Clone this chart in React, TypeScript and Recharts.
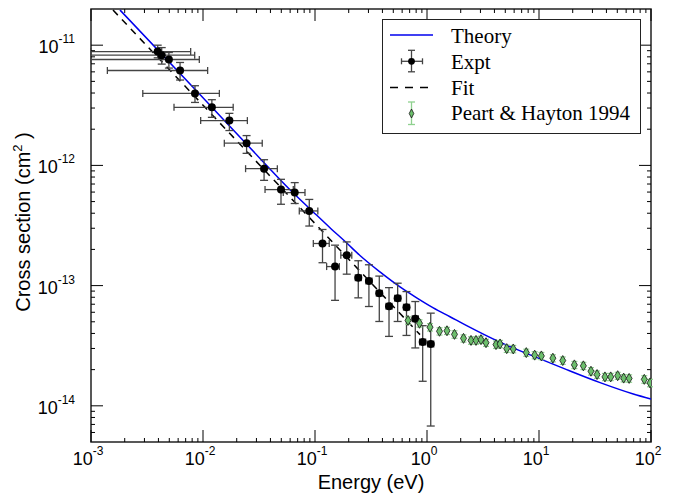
import React from 'react';
import {
  ComposedChart,
  Line,
  Scatter,
  XAxis,
  YAxis,
  ErrorBar,
  ReferenceArea,
  Legend
} from 'recharts';

// Theory curve (energy in eV, cross section in cm^2)
const theoryEnergy = [1.815e-3, 1.0e-2, 3.23e-2, 5.98e-2, 9.59e-2, 0.136, 0.192, 0.252, 0.38, 0.574, 0.809, 1.138, 1.604, 2.262, 4.487, 8.89, 17.66, 35.1, 69.5, 100];
const theorySigma = [1.96e-11, 3.66e-12, 1.143e-12, 6.27e-13, 4.12e-13, 3.03e-13, 2.26e-13, 1.78e-13, 1.3e-13, 9.75e-14, 7.91e-14, 6.53e-14, 5.51e-14, 4.64e-14, 3.38e-14, 2.59e-14, 2.0e-14, 1.56e-14, 1.255e-14, 1.14e-14];

// Power-law fit
const fitEnergy = [1.572e-3, 0.05, 0.866];
const fitSigma = [1.96e-11, 6.5e-13, 3.91e-14];

// Experiment
const exptEnergy = [3.94e-3, 4.28e-3, 4.96e-3, 6.24e-3, 8.48e-3, 1.2e-2, 1.72e-2, 2.45e-2, 3.51e-2, 4.97e-2, 6.59e-2, 8.89e-2, 0.1167, 0.151, 0.192, 0.2435, 0.303, 0.375, 0.458, 0.547, 0.656, 0.786, 0.915, 1.08];
const exptSigma = [8.85e-12, 8.26e-12, 7.6e-12, 6.16e-12, 3.97e-12, 3.04e-12, 2.36e-12, 1.53e-12, 9.39e-13, 6.29e-13, 5.94e-13, 4.18e-13, 2.24e-13, 1.44e-13, 1.79e-13, 1.165e-13, 1.094e-13, 8.65e-14, 6.72e-14, 7.86e-14, 6.62e-14, 5.3e-14, 3.4e-14, 3.27e-14];
const exptEnergyLow = [1.0e-3, 1.0e-3, 1.0e-3, 1.4e-3, 2.9e-3, 5.51e-3, 9.53e-3, 1.55e-2, 2.4e-2, 3.58e-2, 5.21e-2, 7.24e-2, 9.66e-2, 0.127, 0.17, 0.229, 0.285, 0.353, 0.431, 0.514, 0.617, 0.739, 0.86, 1.015];
const exptEnergyHigh = [7.76e-3, 8.43e-3, 9.27e-3, 1.1e-2, 1.4e-2, 1.86e-2, 2.49e-2, 3.38e-2, 4.61e-2, 6.4e-2, 8.14e-2, 0.106, 0.134, 0.165, 0.213, 0.259, 0.323, 0.399, 0.487, 0.582, 0.698, 0.836, 0.973, 1.149];
const exptSigmaLow = [7.85e-12, 6.96e-12, 6.45e-12, 5.13e-12, 3.34e-12, 2.51e-12, 1.95e-12, 1.26e-12, 7.51e-13, 4.75e-13, 4.82e-13, 3.13e-13, 1.55e-13, 7.54e-14, 1.245e-13, 7.91e-14, 6.7e-14, 5.03e-14, 3.78e-14, 5.03e-14, 3.85e-14, 3.03e-14, 1.6e-14, 6.79e-15];
const exptSigmaHigh = [1.0e-11, 9.55e-12, 8.69e-12, 7.18e-12, 4.6e-12, 3.52e-12, 2.71e-12, 1.77e-12, 1.115e-12, 7.66e-13, 7.19e-13, 5.21e-13, 2.93e-13, 2.17e-13, 2.31e-13, 1.61e-13, 1.49e-13, 1.2e-13, 9.62e-14, 1.047e-13, 8.92e-14, 7.37e-14, 4.64e-14, 5.9e-14];

// Peart & Hayton 1994
const peartEnergy = [0.677, 0.857, 1.064, 1.293, 1.508, 1.76, 2.118, 2.471, 2.738, 3.034, 3.364, 4.13, 4.49, 5.15, 5.89, 7.7, 9.15, 10.5, 13.3, 16.3, 20.7, 24.9, 29.1, 33.0, 38.8, 43.7, 50.4, 57.0, 63.8, 87.1, 98.0];
const peartSigma = [5.13e-14, 4.86e-14, 4.51e-14, 4.17e-14, 4.21e-14, 3.93e-14, 3.64e-14, 3.5e-14, 3.5e-14, 3.55e-14, 3.35e-14, 3.23e-14, 3.27e-14, 2.99e-14, 2.97e-14, 2.77e-14, 2.64e-14, 2.6e-14, 2.49e-14, 2.38e-14, 2.19e-14, 2.15e-14, 1.94e-14, 1.82e-14, 1.74e-14, 1.74e-14, 1.78e-14, 1.7e-14, 1.69e-14, 1.66e-14, 1.55e-14];
const peartSigmaErr = [0.36e-14, 0.34e-14, 0.32e-14, 0.29e-14, 0.29e-14, 0.28e-14, 0.25e-14, 0.25e-14, 0.25e-14, 0.25e-14, 0.23e-14, 0.23e-14, 0.23e-14, 0.21e-14, 0.21e-14, 0.19e-14, 0.18e-14, 0.18e-14, 0.17e-14, 0.17e-14, 0.15e-14, 0.15e-14, 0.14e-14, 0.13e-14, 0.12e-14, 0.12e-14, 0.12e-14, 0.12e-14, 0.12e-14, 0.12e-14, 0.11e-14];

// Axes
const xDomain = [1e-3, 1e2];
const yDomain = [5e-15, 2e-11];
const xMajorTicks = [1e-3, 1e-2, 1e-1, 1, 10, 100];
const yMajorTicks = [1e-14, 1e-13, 1e-12, 1e-11];
const minorMantissas = [2, 3, 4, 5, 6, 7, 8, 9];

const xMinorTicks = xMajorTicks.slice(0, -1).flatMap(d => minorMantissas.map(m => m * d));
const yMinorTicks = [1e-15, ...yMajorTicks]
  .flatMap(d => minorMantissas.map(m => m * d))
  .filter(v => v > yDomain[0] * 1.001 && v < yDomain[1] * 0.999);

const theoryData = theoryEnergy.map((x, i) => ({ x, y: theorySigma[i] }));
const fitData = fitEnergy.map((x, i) => ({ x, y: fitSigma[i] }));
const exptData = exptEnergy.map((x, i) => ({
  x,
  y: exptSigma[i],
  xErr: [x - exptEnergyLow[i], exptEnergyHigh[i] - x],
  yErr: [exptSigma[i] - exptSigmaLow[i], exptSigmaHigh[i] - exptSigma[i]]
}));
const peartData = peartEnergy.map((x, i) => ({ x, y: peartSigma[i], yErr: peartSigmaErr[i] }));

const PLOT = { left: 91, right: 651, top: 9, bottom: 442 };
const SANS = '"Liberation Sans", Arial, sans-serif';
const SERIF = '"Liberation Serif", "Times New Roman", serif';
const GREEN = '#6cbf6c';
const GREEN_BAR = '#8fd18f';
const BAR = '#444';

const exponentOf = (v: number) => String(Math.round(Math.log10(v)));

const XTick = (props: any) => {
  const { x, payload } = props;
  const v = payload.value;
  const major = xMajorTicks.includes(v);
  const len = major ? 12 : 4;
  return (
    <g>
      <line x1={x} x2={x} y1={PLOT.bottom} y2={PLOT.bottom - len} stroke="#000" />
      <line x1={x} x2={x} y1={PLOT.top} y2={PLOT.top + len} stroke="#000" />
      {major && (
        <text x={x - 3} y={465} textAnchor="middle" fontFamily={SANS} fontSize={18} fill="#000">
          10<tspan dy={-10} fontSize={12}>{exponentOf(v)}</tspan>
        </text>
      )}
    </g>
  );
};

const YTick = (props: any) => {
  const { y, payload } = props;
  const v = payload.value;
  const major = yMajorTicks.includes(v);
  const len = major ? 12 : 4;
  return (
    <g>
      <line x1={PLOT.left} x2={PLOT.left + len} y1={y} y2={y} stroke="#000" />
      <line x1={PLOT.right} x2={PLOT.right - len} y1={y} y2={y} stroke="#000" />
      {major && (
        <text x={75} y={y + 8} textAnchor="end" fontFamily={SANS} fontSize={18} fill="#000">
          10<tspan dy={-10} fontSize={12}>{exponentOf(v)}</tspan>
        </text>
      )}
    </g>
  );
};

const YTitle = () => (
  <text
    x={30}
    y={222}
    transform="rotate(-90, 30, 222)"
    textAnchor="middle"
    fontFamily={SANS}
    fontSize={20}
    fill="#000"
  >
    Cross section (cm<tspan dy={-8} fontSize={13}>2</tspan>
    <tspan dy={8}> )</tspan>
  </text>
);

const ExptDot = (p: any) => <circle cx={p.cx} cy={p.cy} r={4} fill="#000" />;

const PeartDiamond = (p: any) => (
  <path
    d={`M${p.cx},${p.cy - 5}L${p.cx + 3},${p.cy}L${p.cx},${p.cy + 5}L${p.cx - 3},${p.cy}Z`}
    fill={GREEN}
    stroke="#111"
    strokeWidth={0.8}
  />
);

const LegendBox = () => {
  const rows = [16, 42.3, 68.5, 94.5];
  const sx = 29.5;
  const textProps = { x: 69, fontFamily: SERIF, fontSize: 21, fill: '#000' };
  return (
    <svg width={259} height={116} style={{ display: 'block' }}>
      <rect x={0.5} y={0.5} width={258} height={114} fill="#fff" stroke="#222" />
      {/* Theory */}
      <line x1={8} x2={51} y1={rows[0]} y2={rows[0]} stroke="#0000ee" strokeWidth={1.5} />
      <text {...textProps} y={rows[0] + 8}>Theory</text>
      {/* Expt */}
      <line x1={sx - 10} x2={sx + 11} y1={rows[1]} y2={rows[1]} stroke={BAR} strokeWidth={1.3} />
      <line x1={sx - 10} x2={sx - 10} y1={rows[1] - 3} y2={rows[1] + 3} stroke={BAR} strokeWidth={1.3} />
      <line x1={sx + 11} x2={sx + 11} y1={rows[1] - 3} y2={rows[1] + 3} stroke={BAR} strokeWidth={1.3} />
      <line x1={sx} x2={sx} y1={rows[1] - 11} y2={rows[1] + 10.5} stroke={BAR} strokeWidth={1.3} />
      <line x1={sx - 3.5} x2={sx + 3.5} y1={rows[1] - 11} y2={rows[1] - 11} stroke={BAR} strokeWidth={1.3} />
      <line x1={sx - 3.5} x2={sx + 3.5} y1={rows[1] + 10.5} y2={rows[1] + 10.5} stroke={BAR} strokeWidth={1.3} />
      <circle cx={sx} cy={rows[1]} r={3.4} fill="#000" />
      <text {...textProps} y={rows[1] + 7.7}>Expt</text>
      {/* Fit */}
      <line x1={8} x2={51} y1={rows[2]} y2={rows[2]} stroke="#000" strokeWidth={1.5} strokeDasharray="8 7" />
      <text {...textProps} y={rows[2] + 7.2}>Fit</text>
      {/* Peart & Hayton */}
      <line x1={sx} x2={sx} y1={rows[3] - 11.5} y2={rows[3] + 11} stroke={GREEN_BAR} strokeWidth={1.3} />
      <line x1={sx - 3.5} x2={sx + 3.5} y1={rows[3] - 11.5} y2={rows[3] - 11.5} stroke={GREEN_BAR} strokeWidth={1.3} />
      <line x1={sx - 3.5} x2={sx + 3.5} y1={rows[3] + 11} y2={rows[3] + 11} stroke={GREEN_BAR} strokeWidth={1.3} />
      <path
        d={`M${sx},${rows[3] - 4.5}L${sx + 2.3},${rows[3]}L${sx},${rows[3] + 4.5}L${sx - 2.3},${rows[3]}Z`}
        fill={GREEN}
        stroke="#111"
        strokeWidth={0.8}
      />
      <text {...textProps} y={rows[3] + 6.5}>Peart &amp; Hayton 1994</text>
    </svg>
  );
};

export default function App() {
  return (
    <div style={{ position: 'absolute', left: 0, top: 0, width: 675, height: 495, background: '#fff' }}>
      <ComposedChart width={675} height={495} margin={{ top: 9, right: 24, bottom: 0, left: 0 }}>
        <XAxis
          dataKey="x"
          type="number"
          scale="log"
          domain={xDomain}
          allowDataOverflow
          ticks={[...xMajorTicks, ...xMinorTicks]}
          interval={0}
          tick={(p: any) => <XTick {...p} />}
          tickLine={false}
          axisLine={false}
          tickSize={0}
          height={53}
          label={{ value: 'Energy (eV)', position: 'insideBottom', offset: 6, fontSize: 20, fontFamily: SANS, fill: '#000' }}
        />
        <YAxis
          dataKey="y"
          type="number"
          scale="log"
          domain={yDomain}
          allowDataOverflow
          ticks={[...yMajorTicks, ...yMinorTicks]}
          interval={0}
          tick={(p: any) => <YTick {...p} />}
          tickLine={false}
          axisLine={false}
          tickSize={0}
          width={91}
          label={<YTitle />}
        />
        <Line
          data={fitData}
          dataKey="y"
          type="linear"
          stroke="#000"
          strokeWidth={1.5}
          strokeDasharray="7 6"
          dot={false}
          activeDot={false}
          isAnimationActive={false}
          name="Fit"
        />
        <Line
          data={theoryData}
          dataKey="y"
          type="monotone"
          stroke="#0000ee"
          strokeWidth={1.5}
          dot={false}
          activeDot={false}
          isAnimationActive={false}
          name="Theory"
        />
        <Scatter data={exptData} dataKey="y" shape={ExptDot} isAnimationActive={false} name="Expt">
          <ErrorBar dataKey="xErr" direction="x" width={3.5} stroke={BAR} strokeWidth={1.3} />
          <ErrorBar dataKey="yErr" direction="y" width={4} stroke={BAR} strokeWidth={1.3} />
        </Scatter>
        <Scatter data={peartData} dataKey="y" shape={PeartDiamond} isAnimationActive={false} name="Peart & Hayton 1994">
          <ErrorBar dataKey="yErr" direction="y" width={3} stroke={GREEN_BAR} strokeWidth={1.2} />
        </Scatter>
        <ReferenceArea
          x1={xDomain[0]}
          x2={xDomain[1]}
          y1={yDomain[0]}
          y2={yDomain[1]}
          fill="none"
          stroke="#222"
          strokeWidth={1.5}
          ifOverflow="visible"
        />
        <Legend
          layout="vertical"
          align="center"
          verticalAlign="middle"
          wrapperStyle={{ position: 'absolute', left: 382, top: 19, width: 259, height: 116 }}
          content={() => <LegendBox />}
        />
      </ComposedChart>
    </div>
  );
}
